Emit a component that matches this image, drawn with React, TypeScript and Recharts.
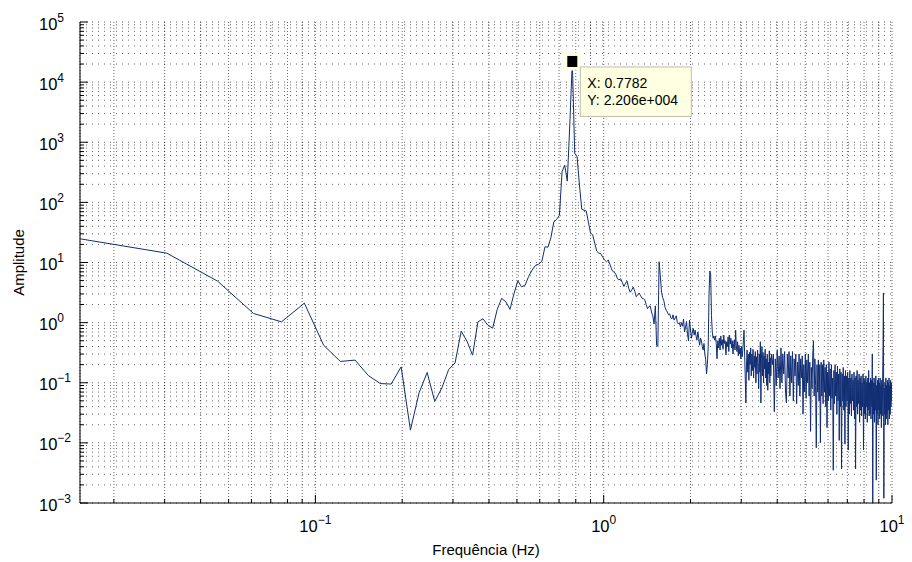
import React from 'react';
import { LineChart, Line, XAxis, YAxis, CartesianGrid, ReferenceDot } from 'recharts';

// FFT bin spacing (Hz): the data tip reads X = 0.7782 = 51 bins
const BIN_HZ = 1 / 65.536;

// amplitudes for bins 1..60
const ampBins1to60 = [
  24.8, 14.3, 4.9, 1.42, 1.03, 2.11, 0.42, 0.226, 0.238, 0.132,
  0.097, 0.095, 0.184, 0.0163, 0.068, 0.148, 0.049, 0.082, 0.166, 0.214,
  0.72, 0.49, 0.288, 1.03, 1.16, 0.9, 0.81, 1.66, 2.53, 2.22,
  1.66, 3.0, 4.96, 3.94, 4.2, 5.9, 7.5, 8.95, 9.4, 10.5,
  18.2, 18.0, 26, 47.5, 52, 61, 323, 417, 226, 2000,
  22060, 660, 570, 194, 77, 74, 72, 47, 31, 29,
];

// amplitudes for bins 61..160
const ampBins61to160 = [
  21, 15.4, 14.3, 14.1, 12.3, 11, 10.3, 11, 9.1, 7.5,
  6.9, 6.6, 5.5, 5.1, 5.4, 4.7, 4.0, 4.5, 4.9, 3.75,
  3.2, 3.5, 3.9, 3.3, 2.7, 2.9, 3.1, 2.8, 2.55, 2.5,
  2.4, 2.0, 1.7, 1.85, 1.9, 1.5, 1.3, 0.95, 1.9, 0.42,
  0.4, 10.3, 6, 3.2, 2.6, 2.3, 1.8, 1.6, 1.5, 1.35,
  1.4, 1.2, 1.15, 1.35, 1.1, 1.2, 1.3, 1.0, 0.95, 1.0,
  0.85, 1.0, 0.87, 1.15, 0.7, 0.85, 1.05, 0.65, 0.5, 1.1,
  0.8, 0.55, 0.7, 0.8, 0.62, 0.75, 0.6, 0.51, 0.7, 0.55,
  0.42, 0.55, 0.51, 0.4, 0.35, 0.45, 0.3, 0.24, 0.14, 0.2,
  0.4, 3, 7.2, 6.4, 1.3, 0.7, 0.55, 0.6, 0.51, 0.6,
];

// amplitudes for bins 161..250
const ampBins161to250 = [
  0.45, 0.25, 0.5, 0.38, 0.55, 0.35, 0.6, 0.42, 0.52, 0.36,
  0.62, 0.45, 0.5, 0.29, 0.48, 0.4, 0.58, 0.33, 0.62, 0.44,
  0.55, 0.38, 0.5, 0.3, 0.45, 0.52, 0.35, 0.75, 0.42, 0.33,
  0.48, 0.28, 0.42, 0.3, 0.38, 0.25, 0.4, 0.27, 0.35, 0.5,
  0.75, 0.3, 0.12, 0.046, 0.2, 0.35, 0.15, 0.3, 0.11, 0.32,
  0.2, 0.38, 0.13, 0.3, 0.16, 0.36, 0.12, 0.28, 0.18, 0.33,
  0.1, 0.27, 0.14, 0.35, 0.2, 0.08, 0.3, 0.15, 0.48, 0.046,
  0.25, 0.4, 0.13, 0.32, 0.1, 0.28, 0.17, 0.36, 0.12, 0.25,
  0.09, 0.3, 0.075, 0.22, 0.14, 0.34, 0.1, 0.26, 0.13, 0.3,
];

// amplitudes for every second bin, 252..654
const ampBins252to654step2 = [
  0.2, 0.3, 0.033, 0.25, 0.09, 0.35, 0.12, 0.28, 0.08, 0.38,
  0.1, 0.3, 0.14, 0.33, 0.07, 0.046, 0.3, 0.12, 0.33, 0.06,
  0.28, 0.1, 0.33, 0.05, 0.25, 0.13, 0.3, 0.045, 0.22, 0.09,
  0.3, 0.06, 0.25, 0.12, 0.28, 0.03, 0.2, 0.07, 0.3, 0.055,
  0.24, 0.1, 0.3, 0.06, 0.22, 0.0155, 0.18, 0.08, 0.28, 0.5,
  0.06, 0.25, 0.09, 0.0083, 0.2, 0.07, 0.24, 0.05, 0.2, 0.01,
  0.22, 0.06, 0.2, 0.045, 0.24, 0.07, 0.18, 0.04, 0.2, 0.018,
  0.15, 0.05, 0.22, 0.06, 0.17, 0.035, 0.2, 0.055, 0.12, 0.0035,
  0.16, 0.045, 0.2, 0.06, 0.15, 0.03, 0.19, 0.05, 0.14, 0.011,
  0.17, 0.04, 0.15, 0.0037, 0.14, 0.05, 0.18, 0.035, 0.13, 0.0095,
  0.16, 0.04, 0.13, 0.05, 0.15, 0.0076, 0.12, 0.03, 0.16, 0.045,
  0.12, 0.028, 0.14, 0.05, 0.11, 0.035, 0.15, 0.025, 0.12, 0.0037,
  0.13, 0.04, 0.16, 0.03, 0.11, 0.045, 0.14, 0.022, 0.12, 0.035,
  0.13, 0.028, 0.1, 0.04, 0.14, 0.0076, 0.12, 0.03, 0.11, 0.025,
  0.13, 0.04, 0.1, 0.022, 0.12, 0.035, 0.16, 0.028, 0.1, 0.03,
  0.12, 0.025, 0.11, 0.04, 0.3, 0.0008, 0.1, 0.03, 0.12, 0.022,
  0.1, 0.035, 0.13, 0.0024, 0.09, 0.03, 0.11, 0.02, 0.12, 0.035,
  0.1, 0.025, 0.12, 0.03, 0.09, 0.018, 0.11, 0.028, 0.1, 0.4,
  3.1, 0.0012, 0.08, 0.03, 0.1, 0.02, 0.12, 0.025, 0.09, 0.03,
  0.11, 0.02, 0.1, 0.035, 0.12, 0.025, 0.09, 0.03, 0.11, 0.04,
  0.1, 0.05,
];

// axis ticks
const xTicks = [
  0.02, 0.03, 0.04, 0.05, 0.06, 0.07, 0.08, 0.09, 0.1,
  0.2, 0.3, 0.4, 0.5, 0.6, 0.7, 0.8, 0.9, 1,
  2, 3, 4, 5, 6, 7, 8, 9, 10,
];
const yDecades = [1e-3, 1e-2, 1e-1, 1, 10, 100, 1e3, 1e4, 1e5];
const yMinorSteps = [2, 3, 4, 5, 6, 7, 8, 9];

const X_DOMAIN: [number, number] = [BIN_HZ, 10];
const Y_DOMAIN: [number, number] = [1e-3, 1e5];

const yTicks: number[] = [];
yDecades.forEach((d, i) => {
  yTicks.push(d);
  if (i < yDecades.length - 1) yMinorSteps.forEach((m) => yTicks.push(+(m * d).toPrecision(6)));
});

type Pt = { f: number; a: number };
const segment = (arr: number[], startBin: number, step: number): Pt[] =>
  arr.map((a, i) => ({ f: (startBin + i * step) * BIN_HZ, a }));

const spectrum: Pt[] = [
  ...segment(ampBins1to60, 1, 1),
  ...segment(ampBins61to160, 61, 1),
  ...segment(ampBins161to250, 161, 1),
  ...segment(ampBins252to654step2, 252, 2),
];

const peak = spectrum.reduce((m, p) => (p.a > m.a ? p : m), spectrum[0]);

const FONT = '"Liberation Sans", Arial, Helvetica, sans-serif';
const LINE_COLOR = '#102d74';

const isDecade = (v: number) => {
  const l = Math.log10(v);
  return Math.abs(l - Math.round(l)) < 1e-6;
};
const expText = (v: number) => {
  const e = Math.round(Math.log10(v));
  return e < 0 ? '\u2212' + -e : String(e);
};
const matlabExp = (v: number) => {
  const [m, e] = v.toExponential(3).split('e');
  const n = parseInt(e, 10);
  const s = n < 0 ? '-' : '+';
  return `${m}e${s}${String(Math.abs(n)).padStart(3, '0')}`;
};

const MAJOR = 8;
const MINOR = 4;

const BottomTick = (p: any) => {
  const { x, y, payload } = p;
  const major = isDecade(payload.value);
  return (
    <g>
      <line x1={x} x2={x} y1={y} y2={y - (major ? MAJOR : MINOR)} stroke="#000" />
      {major && (
        <text x={x} y={y + 29} textAnchor="middle" fontSize={16.5} fontFamily={FONT} fill="#000">
          10
          <tspan fontSize={12} dy={-8}>
            {expText(payload.value)}
          </tspan>
        </text>
      )}
    </g>
  );
};

const TopTick = (p: any) => {
  const { x, y, payload } = p;
  const major = isDecade(payload.value);
  return <line x1={x} x2={x} y1={y} y2={y + (major ? MAJOR : MINOR)} stroke="#000" />;
};

const LeftTick = (p: any) => {
  const { x, y, payload } = p;
  const major = isDecade(payload.value);
  return (
    <g>
      <line x1={x} x2={x + (major ? MAJOR : MINOR)} y1={y} y2={y} stroke="#000" />
      {major && (
        <text x={x - 41} y={y + 7.5} textAnchor="start" fontSize={16.5} fontFamily={FONT} fill="#000">
          10
          <tspan fontSize={12} dy={-8}>
            {expText(payload.value)}
          </tspan>
        </text>
      )}
    </g>
  );
};

const RightTick = (p: any) => {
  const { x, y, payload } = p;
  const major = isDecade(payload.value);
  return <line x1={x} x2={x - (major ? MAJOR : MINOR)} y1={y} y2={y} stroke="#000" />;
};

const DataTip = (p: any) => {
  const { cx, cy } = p;
  if (cx == null || cy == null) return null;
  return (
    <g>
      <rect x={cx - 8.5} y={cy - 9} width={17} height={18} fill="#ffffe1" />
      <rect x={cx - 5} y={cy - 5.5} width={10} height={11} fill="#000" />
      <rect x={cx + 8} y={cy + 5.5} width={111} height={49.5} fill="#ffffe1" stroke="#bdbdb0" />
      <text x={cx + 15} y={cy + 26.5} fontSize={14} fontFamily={FONT} fill="#000">
        {`X: ${peak.f.toFixed(4)}`}
      </text>
      <text x={cx + 15} y={cy + 44} fontSize={14} fontFamily={FONT} fill="#000">
        {`Y: ${matlabExp(peak.a)}`}
      </text>
    </g>
  );
};

const XTitle = () => (
  <text x={486} y={555} textAnchor="middle" fontSize={15} fontFamily={FONT} fill="#000">
    Frequência (Hz)
  </text>
);
const YTitle = () => (
  <text
    x={24}
    y={262.5}
    textAnchor="middle"
    fontSize={15}
    fontFamily={FONT}
    fill="#000"
    transform="rotate(-90 24 262.5)"
  >
    Amplitude
  </text>
);

export default function App() {
  return (
    <div style={{ position: 'absolute', left: 0, top: 0, width: 912, height: 562, background: '#fff' }}>
      <LineChart
        width={912}
        height={562}
        data={spectrum}
        margin={{ top: 22, right: 20, bottom: 0, left: 0 }}
        style={{ fontFamily: FONT }}
      >
        <CartesianGrid vertical={false} stroke="#000" strokeOpacity={0.6} strokeDasharray="1 5" />
        <CartesianGrid horizontal={false} stroke="#000" strokeOpacity={0.6} strokeDasharray="1 2" />
        <XAxis
          dataKey="f"
          type="number"
          scale="log"
          domain={X_DOMAIN}
          allowDataOverflow
          ticks={xTicks}
          interval={0}
          height={59}
          tickSize={0}
          tickMargin={0}
          tickLine={false}
          axisLine={{ stroke: '#000' }}
          tick={BottomTick}
          label={{ content: XTitle }}
        />
        <XAxis
          xAxisId="top"
          orientation="top"
          dataKey="f"
          type="number"
          scale="log"
          domain={X_DOMAIN}
          allowDataOverflow
          ticks={xTicks}
          interval={0}
          height={0}
          tickSize={0}
          tickMargin={0}
          tickLine={false}
          axisLine={{ stroke: '#000' }}
          tick={TopTick}
        />
        <YAxis
          type="number"
          scale="log"
          domain={Y_DOMAIN}
          allowDataOverflow
          ticks={yTicks}
          interval={0}
          width={80}
          tickSize={0}
          tickMargin={0}
          tickLine={false}
          axisLine={{ stroke: '#000' }}
          tick={LeftTick}
          label={{ content: YTitle }}
        />
        <YAxis
          yAxisId="right"
          orientation="right"
          type="number"
          scale="log"
          domain={Y_DOMAIN}
          allowDataOverflow
          ticks={yTicks}
          interval={0}
          width={0}
          tickSize={0}
          tickMargin={0}
          tickLine={false}
          axisLine={{ stroke: '#000' }}
          tick={RightTick}
        />
        <Line
          type="linear"
          dataKey="a"
          stroke={LINE_COLOR}
          strokeWidth={1}
          dot={false}
          activeDot={false}
          isAnimationActive={false}
        />
        <ReferenceDot x={peak.f} y={peak.a} r={5} shape={DataTip} />
      </LineChart>
    </div>
  );
}
